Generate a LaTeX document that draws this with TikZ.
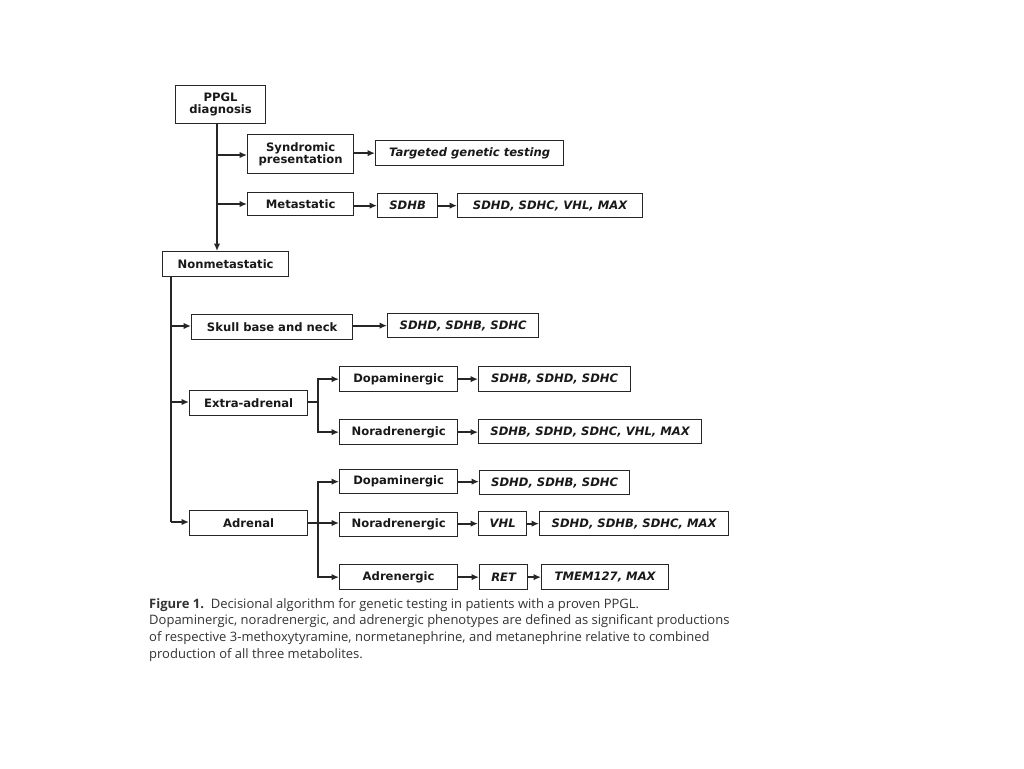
\documentclass[tikz,border=0pt]{standalone}
\usepackage{fontspec}
\setmainfont{DejaVu Sans}
\newfontfamily\capfont{Open Sans}
\usetikzlibrary{arrows.meta}
\begin{document}
\begin{tikzpicture}[x=1pt,y=-1pt,
  box/.style={draw=black!85, line width=1.3pt, inner sep=0pt, anchor=north west,
    font=\fontsize{11.6}{13}\selectfont\bfseries, text=black!90, align=center},
  gene/.style={box, font=\fontsize{11.6}{13}\selectfont\bfseries\itshape},
  conn/.style={draw=black!85, line width=1.9pt, -{Latex[length=7.5pt,width=6.5pt]}},
  line/.style={draw=black!85, line width=1.9pt}]
\useasboundingbox (0,0) rectangle (1024,768);
\fill[white] (0,0) rectangle (1024,768);
% top part
\node[box, minimum width=90pt, minimum height=38pt] (ppgl) at (175,85) {PPGL\\[-1pt]diagnosis};
\node[box, minimum width=106pt, minimum height=39pt] (syn) at (247,134) {Syndromic\\[-1pt]presentation};
\node[box, minimum width=106pt, minimum height=23pt] (meta) at (247,192) {Metastatic};
\node[box, minimum width=126pt, minimum height=25pt] (nonm) at (162,251) {Nonmetastatic};
\node[gene, minimum width=188pt, minimum height=25pt] (tgt) at (375,140) {Targeted genetic testing};
\node[gene, minimum width=60pt, minimum height=24pt] (sdhb) at (377,193) {SDHB};
\node[gene, minimum width=185pt, minimum height=24pt] (mlist) at (457,193) {SDHD, SDHC, VHL, MAX};
% nonmetastatic part
\node[box, minimum width=161pt, minimum height=25pt] (skull) at (191,314) {Skull base and neck};
\node[gene, minimum width=151pt, minimum height=24pt] (skullg) at (387,313) {SDHD, SDHB, SDHC};
\node[box, minimum width=118pt, minimum height=25pt] (extra) at (189,390) {Extra-adrenal};
\node[box, minimum width=118pt, minimum height=25pt] (edopa) at (339,366) {Dopaminergic};
\node[box, minimum width=118pt, minimum height=25pt] (enora) at (339,419) {Noradrenergic};
\node[gene, minimum width=152pt, minimum height=25pt] (edopag) at (478,366) {SDHB, SDHD, SDHC};
\node[gene, minimum width=223pt, minimum height=24pt] (enorag) at (478,419) {SDHB, SDHD, SDHC, VHL, MAX};
\node[box, minimum width=118pt, minimum height=25pt] (adr) at (189,510) {Adrenal};
\node[box, minimum width=118pt, minimum height=24pt] (adopa) at (339,469) {Dopaminergic};
\node[box, minimum width=118pt, minimum height=24pt] (anora) at (339,512) {Noradrenergic};
\node[box, minimum width=118pt, minimum height=25pt] (aadr) at (339,564) {Adrenergic};
\node[gene, minimum width=150pt, minimum height=24pt] (adopag) at (479,470) {SDHD, SDHB, SDHC};
\node[gene, minimum width=48pt, minimum height=24pt] (vhl) at (478,511) {VHL};
\node[gene, minimum width=189pt, minimum height=24pt] (anorag) at (539,511) {SDHD, SDHB, SDHC, MAX};
\node[gene, minimum width=48pt, minimum height=25pt] (ret) at (479,564) {RET};
\node[gene, minimum width=127pt, minimum height=25pt] (tmem) at (541,564) {TMEM127, MAX};
% connectors top
\coordinate (t0) at (217,123);
\coordinate (t1) at (217,155);
\coordinate (t2) at (217,204);
\coordinate (t3) at (217,251);
\draw[conn] (t0) -- (t3);
\draw[conn] (t1) -- (syn.west|-t1);
\draw[conn] (t2) -- (meta.west|-t2);
\draw[conn] (syn.east|-tgt.west) -- (tgt.west);
\draw[conn] (meta.east|-sdhb.west) -- (sdhb.west);
\draw[conn] (sdhb.east) -- (mlist.west);
% trunk
\coordinate (n0) at (171,276);
\coordinate (n1) at (171,326);
\coordinate (n2) at (171,402);
\coordinate (n3) at (171,522);
\draw[line] (n0) -- (n3);
\draw[conn] (n3) -- (adr.west|-n3);
\draw[conn] (n1) -- (skull.west|-n1);
\draw[conn] (n2) -- (extra.west|-n2);
\draw[conn] (skull.east|-skullg.west) -- (skullg.west);
% extra-adrenal split
\coordinate (es) at (318,402);
\draw[line] (extra.east|-es) -- (es);
\draw[conn] (es) |- (edopa.west);
\draw[conn] (es) |- (enora.west);
\draw[conn] (edopa.east) -- (edopag.west|-edopa.east);
\draw[conn] (enora.east) -- (enorag.west|-enora.east);
% adrenal split
\coordinate (as) at (318,523);
\draw[line] (adr.east|-as) -- (as);
\draw[conn] (as) |- (adopa.west);
\draw[conn] (as) -- (anora.west|-as);
\draw[conn] (as) |- (aadr.west);
\draw[conn] (adopa.east) -- (adopag.west|-adopa.east);
\draw[conn] (anora.east|-vhl.west) -- (vhl.west);
\draw[conn] (vhl.east) -- (anorag.west|-vhl.east);
\draw[conn] (aadr.east|-ret.west) -- (ret.west);
\draw[conn] (ret.east) -- (tmem.west|-ret.east);
% caption
\node[anchor=north west, inner sep=0pt, align=left, text=black!80,
  font=\capfont\fontsize{13}{16.7}\selectfont] (cap) at (149,598)
  {{\bfseries Figure 1.}\ \ Decisional algorithm for genetic testing in patients with a proven PPGL.\\
   Dopaminergic, noradrenergic, and adrenergic phenotypes are defined as significant productions\\
   of respective 3-methoxytyramine, normetanephrine, and metanephrine relative to combined\\
   production of all three metabolites.};
\end{tikzpicture}
\end{document}
